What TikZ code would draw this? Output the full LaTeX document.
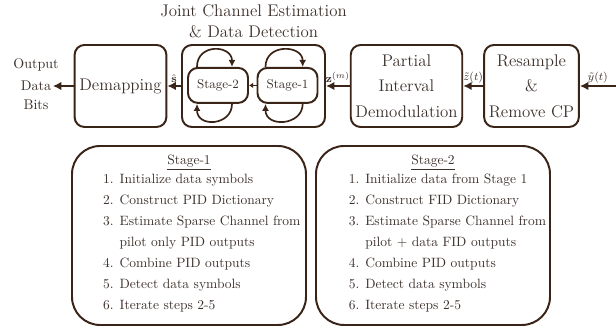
\documentclass[tikz,border=0pt]{standalone}
\usetikzlibrary{positioning,arrows.meta}
\definecolor{brn}{HTML}{3A2418}
\definecolor{ink}{HTML}{3C302B}
\tikzset{
  blk/.style={draw=brn,line width=1.4pt,rounded corners=7pt,minimum height=2.05cm,
    align=center,text=ink,font=\large\linespread{1.3}\selectfont},
  stg/.style={draw=brn,line width=1.4pt,rounded corners=7pt,minimum width=1.5cm,
    minimum height=0.875cm,font=\small,text=ink},
  note/.style={draw=brn,line width=1.4pt,rounded corners=20pt,minimum width=5.85cm,minimum height=4.475cm},
  flow/.style={draw=brn,line width=1.4pt,-{Latex[length=6pt,width=6pt]}},
  loop/.style={draw=brn,line width=1.2pt,-{Latex[length=5pt,width=5pt]}},
  lbl/.style={font=\footnotesize,text=ink,inner sep=1.5pt},
  word/.style={text=ink,inner sep=1pt},
  steps/.style={align=left,text=ink,font=\fontsize{9.6}{14.9}\selectfont},
  head/.style={text=ink,font=\fontsize{9.6}{12}\selectfont}
}
\begin{document}
\begin{tikzpicture}
    \useasboundingbox (0,0) rectangle (15.4,8.325);
    % Processing chain
    \node[blk,minimum width=2.125cm] (demap) at (3.0125,6.175) {Demapping};
    \node[draw=brn,line width=1.4pt,rounded corners=7pt,minimum width=3.575cm,minimum height=2.05cm] (joint) at (6.3375,6.175) {};
    \node[blk,minimum width=2.675cm] (pid) at (10.1625,6.175) {Partial\\Interval\\Demodulation};
    \node[blk,minimum width=2.275cm] (rs) at (13.2875,6.175) {Resample\\\&\\Remove CP};
    \node[align=center,text=ink,font=\large\linespread{1.1}\selectfont,above=0.02cm of joint] (title) {Joint Channel Estimation\\\& Data Detection};
    \coordinate (in) at (15.4,6.175);
    % Output words
    \node[word] (data) at (0.9,6.175) {Data};
    \node[word] (output) at (0.9,6.7) {Output};
    \node[word] (bits) at (0.9,5.7) {Bits};
    % Stages inside the joint block
    \node[stg] (s2) at (5.45,6.19) {Stage-2};
    \node[stg] (s1) at (7.1875,6.19) {Stage-1};
    \draw[loop] ([xshift=-0.525cm]s2.north) .. controls +(0,0.6) and +(0,0.55) .. ([xshift=0.35cm]s2.north);
    \draw[loop] ([xshift=0.35cm]s2.south) .. controls +(0,-0.55) and +(0,-0.6) .. ([xshift=-0.525cm]s2.south);
    \draw[loop] ([xshift=-0.55cm]s1.north) .. controls +(0,0.6) and +(0,0.55) .. ([xshift=0.38cm]s1.north);
    \draw[loop] ([xshift=0.38cm]s1.south) .. controls +(0,-0.55) and +(0,-0.6) .. ([xshift=-0.55cm]s1.south);
    \draw[draw=brn,line width=1pt,-{Latex[length=3pt,width=4pt]}] (s1) -- (s2);
    % Connectors
    \draw[flow] (in) -- node[lbl,above] {$\tilde{y}(t)$} (rs);
    \draw[flow] (rs) -- node[lbl,above] {$\tilde{z}(t)$} (pid);
    \draw[flow] (pid) -- node[lbl,above] {$\mathbf{z}^{(m)}$} (joint);
    \draw[flow] (joint) -- node[lbl,above] {$\hat{\mathbf{s}}$} (demap);
    \draw[flow] (demap) -- (data);
    % Stage-1 steps
    \node[note] (n1) at (4.725,2.4375) {};
    \node[head,below=0.12cm of n1.north] (h1) {\underline{Stage-1}};
    \node[steps,anchor=north west] (l1) at ([xshift=0.68cm,yshift=-0.6cm]n1.north west) {%
        1. Initialize data symbols\\
        2. Construct PID Dictionary\\
        3. Estimate Sparse Channel from\\
        \phantom{3. }pilot only PID outputs\\
        4. Combine PID outputs\\
        5. Detect data symbols\\
        6. Iterate steps 2-5};
    % Stage-2 steps
    \node[note] (n2) at (10.825,2.4375) {};
    \node[head,below=0.12cm of n2.north] (h2) {\underline{Stage-2}};
    \node[steps,anchor=north west] (l2) at ([xshift=0.72cm,yshift=-0.6cm]n2.north west) {%
        1. Initialize data from Stage 1\\
        2. Construct FID Dictionary\\
        3. Estimate Sparse Channel from\\
        \phantom{3. }pilot + data FID outputs\\
        4. Combine PID outputs\\
        5. Detect data symbols\\
        6. Iterate steps 2-5};
\end{tikzpicture}
\end{document}
